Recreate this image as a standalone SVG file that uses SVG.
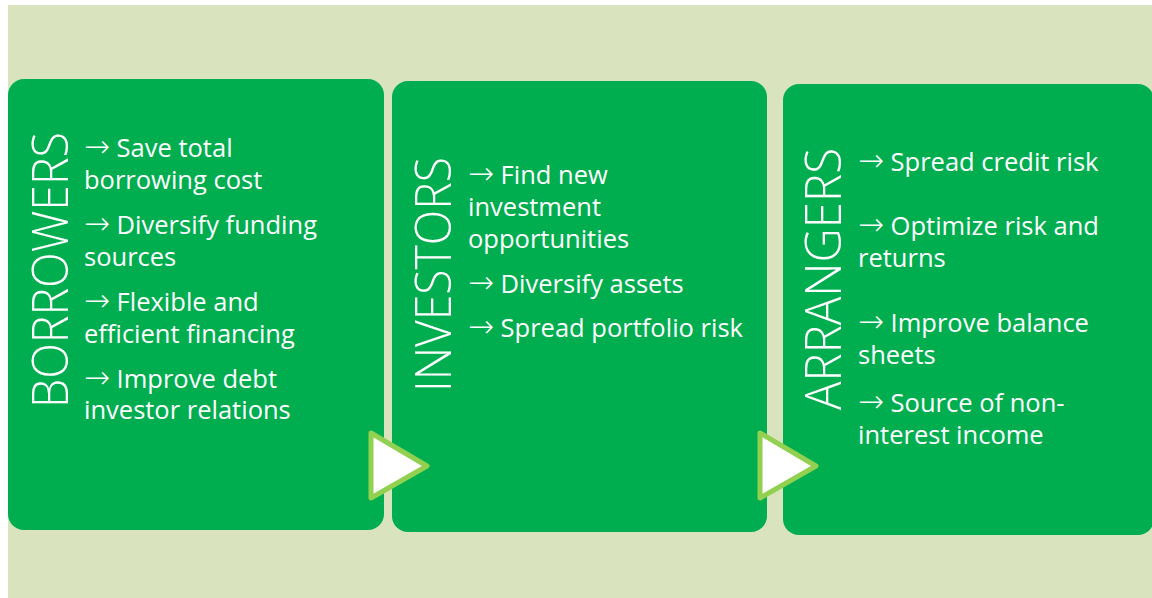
<svg xmlns="http://www.w3.org/2000/svg" width="1152" height="598" viewBox="0 0 1152 598">
  <style>
    .panel { fill: #00AE4F; }
    .title { font-family: "Open Sans", "Liberation Sans", sans-serif; font-weight: 300; font-size: 50px; fill: #FFFFFF; }
    .item { font-family: "Open Sans", "Liberation Sans", sans-serif; font-size: 25.5px; fill: #FFFFFF; }
    .arw { font-family: "DejaVu Sans", sans-serif; font-weight: 200; font-size: 31px; }
    .flow { fill: #FFFFFF; stroke: #92D050; stroke-width: 5; stroke-linejoin: round; }
  </style>
  <rect width="1152" height="598" fill="#FFFFFF"/>
  <rect x="8" y="5" width="1144" height="593" fill="#D9E4BF"/>

  <g id="borrowers">
    <rect class="panel" x="8" y="79" width="376" height="451" rx="16"/>
    <text class="title" transform="translate(68,408) rotate(-90)" textLength="276" lengthAdjust="spacingAndGlyphs">BORROWERS</text>
    <text class="item" x="84" y="157"><tspan class="arw">→</tspan> Save total</text>
    <text class="item" x="84" y="189">borrowing cost</text>
    <text class="item" x="84" y="234"><tspan class="arw">→</tspan> Diversify funding</text>
    <text class="item" x="84" y="266">sources</text>
    <text class="item" x="84" y="311"><tspan class="arw">→</tspan> Flexible and</text>
    <text class="item" x="84" y="343">efficient financing</text>
    <text class="item" x="84" y="388"><tspan class="arw">→</tspan> Improve debt</text>
    <text class="item" x="84" y="419">investor relations</text>
  </g>

  <g id="investors">
    <rect class="panel" x="392" y="81" width="375" height="451" rx="16"/>
    <text class="title" transform="translate(451,392) rotate(-90)" textLength="235" lengthAdjust="spacingAndGlyphs">INVESTORS</text>
    <text class="item" x="468" y="184"><tspan class="arw">→</tspan> Find new</text>
    <text class="item" x="468" y="216">investment</text>
    <text class="item" x="468" y="248">opportunities</text>
    <text class="item" x="468" y="293"><tspan class="arw">→</tspan> Diversify assets</text>
    <text class="item" x="468" y="337"><tspan class="arw">→</tspan> Spread portfolio risk</text>
  </g>

  <g id="arrangers">
    <rect class="panel" x="783" y="84" width="371" height="451" rx="16"/>
    <text class="title" transform="translate(841,410) rotate(-90)" textLength="262" lengthAdjust="spacingAndGlyphs">ARRANGERS</text>
    <text class="item" x="858" y="171"><tspan class="arw">→</tspan> Spread credit risk</text>
    <text class="item" x="858" y="235"><tspan class="arw">→</tspan> Optimize risk and</text>
    <text class="item" x="858" y="267">returns</text>
    <text class="item" x="858" y="332"><tspan class="arw">→</tspan> Improve balance</text>
    <text class="item" x="858" y="364">sheets</text>
    <text class="item" x="858" y="412"><tspan class="arw">→</tspan> Source of non-</text>
    <text class="item" x="858" y="444">interest income</text>
  </g>

  <g id="connectors">
    <polygon class="flow" points="371,433 427,466 371,498"/>
    <polygon class="flow" points="760,433 816,466 760,498"/>
  </g>
</svg>
